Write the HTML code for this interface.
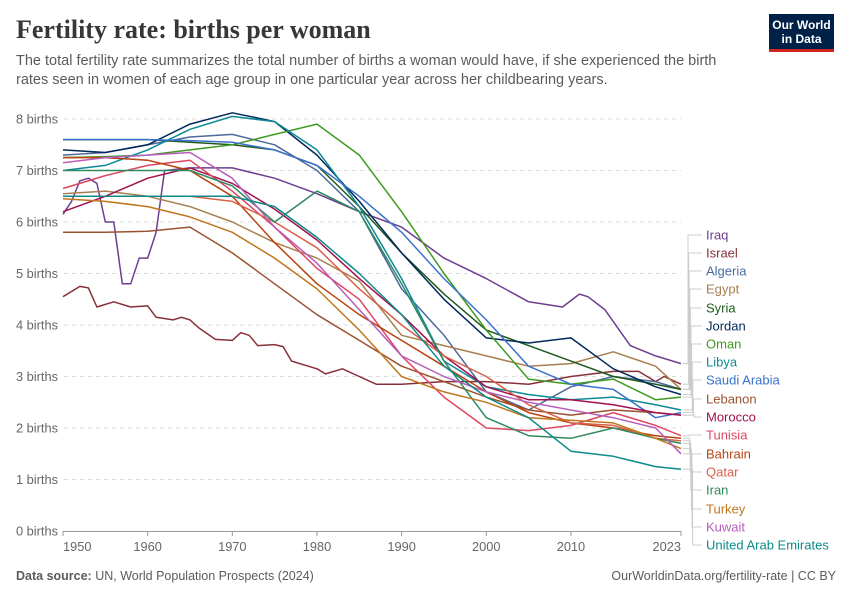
<!DOCTYPE html>
<html><head><meta charset="utf-8">
<style>
body{margin:0;background:#fff;}
#wrap{position:relative;width:850px;height:600px;overflow:hidden;font-family:"Liberation Sans",sans-serif;}
.title{position:absolute;left:16px;top:15px;font-family:"Liberation Serif",serif;font-size:26px;font-weight:bold;color:#373737;margin:0;}
.sub{position:absolute;left:16px;top:52px;width:730px;font-size:14.5px;line-height:19px;color:#5b5b5b;margin:0;}
.logo{position:absolute;left:769px;top:14px;width:65px;height:38px;background:#002147;color:#fff;font-size:12px;font-weight:bold;text-align:center;line-height:14px;padding-top:4px;box-sizing:border-box;border-bottom:3px solid #ce261e;}
.foot{position:absolute;top:569px;font-size:12.5px;color:#5b5b5b;}
</style></head><body>
<div id="wrap">
<h1 class="title">Fertility rate: births per woman</h1>
<p class="sub">The total fertility rate summarizes the total number of births a woman would have, if she experienced the birth rates seen in women of each age group in one particular year across her childbearing years.</p>
<div class="logo">Our World<br>in Data</div>
<div class="foot" style="left:16px"><b>Data source:</b> UN, World Population Prospects (2024)</div>
<div class="foot" style="right:14px">OurWorldinData.org/fertility-rate | CC BY</div>
<svg id="chart" width="850" height="600" style="position:absolute;left:0;top:0"></svg>
</div>
<script>
const yTicks=[0,1,2,3,4,5,6,7,8];
const xTicks=[1950,1960,1970,1980,1990,2000,2010,2023];
const countries=["Iraq","Israel","Algeria","Egypt","Syria","Jordan","Oman","Libya","Saudi Arabia","Lebanon","Morocco","Tunisia","Bahrain","Qatar","Iran","Turkey","Kuwait","United Arab Emirates"];
const colors=["#6d3e91","#883039","#4c6a9c","#a8804f","#1f5a1c","#00295b","#3f9a1f","#0e8a97","#3a72cc","#9a5230","#a2114d","#de4761","#b9420f","#d9604a","#2e8a5e","#c0761c","#b65fbc","#0d8a8a"];
const iraqYears=[1950,1951,1952,1953,1954,1955,1956,1957,1958,1959,1960,1961,1962,1965,1970,1975,1980,1985,1990,1995,2000,2005,2009,2011,2012,2014,2017,2020,2023];
const iraqVals=[6.15,6.4,6.8,6.85,6.75,6.0,6.0,4.8,4.8,5.3,5.3,5.8,7.0,7.05,7.05,6.85,6.55,6.2,5.9,5.3,4.9,4.45,4.35,4.6,4.55,4.3,3.6,3.4,3.25];
const israelYears=[1950,1952,1953,1954,1956,1958,1960,1961,1963,1964,1965,1966,1968,1970,1971,1972,1973,1975,1976,1977,1980,1981,1983,1985,1987,1990,1995,2000,2005,2010,2015,2018,2020,2021,2023];
const israelVals=[4.55,4.75,4.72,4.35,4.45,4.35,4.37,4.15,4.1,4.15,4.1,3.95,3.72,3.7,3.85,3.8,3.6,3.62,3.58,3.3,3.15,3.05,3.15,3.0,2.85,2.85,2.9,2.9,2.85,3.0,3.1,3.1,2.9,3.0,2.85];
const stdYears=[1950,1955,1960,1965,1970,1975,1980,1985,1990,1995,2000,2005,2010,2015,2020,2023];
const algeriaVals=[7.3,7.35,7.5,7.65,7.7,7.5,7.0,6.2,4.7,3.8,2.7,2.35,2.8,3.0,2.9,2.75];
const egyptVals=[6.55,6.6,6.5,6.3,6.0,5.6,5.3,4.85,3.8,3.6,3.4,3.2,3.25,3.48,3.2,2.75];
const syriaVals=[7.6,7.6,7.6,7.55,7.5,7.4,7.1,6.3,5.4,4.6,3.9,3.6,3.3,3.0,2.85,2.75];
const jordanVals=[7.4,7.35,7.5,7.9,8.12,7.95,7.3,6.4,5.4,4.5,3.75,3.65,3.75,3.15,2.8,2.65];
const omanVals=[7.25,7.27,7.3,7.4,7.5,7.7,7.9,7.3,6.2,5.0,3.9,2.95,2.85,2.95,2.55,2.6];
const libyaVals=[7.0,7.1,7.4,7.8,8.05,7.95,7.4,6.3,4.9,3.3,2.8,2.65,2.55,2.6,2.45,2.35];
const saudiVals=[7.6,7.6,7.6,7.58,7.55,7.4,7.1,6.5,5.8,4.9,4.1,3.2,2.85,2.75,2.2,2.3];
const lebanonVals=[5.8,5.8,5.82,5.9,5.4,4.8,4.2,3.7,3.2,2.9,2.6,2.35,2.25,2.35,2.3,2.25];
const moroccoVals=[6.2,6.5,6.85,7.05,6.75,6.25,5.65,4.9,4.2,3.4,2.8,2.55,2.55,2.45,2.3,2.25];
const tunisiaVals=[6.65,6.9,7.1,7.2,6.6,5.9,5.1,4.5,3.4,2.6,2.0,1.95,2.05,2.3,2.05,1.85];
const bahrainVals=[7.25,7.25,7.2,7.0,6.5,5.6,4.8,4.2,3.7,3.2,2.7,2.3,2.1,2.0,1.85,1.8];
const qatarVals=[6.5,6.5,6.5,6.5,6.4,6.0,5.5,4.7,4.0,3.4,3.0,2.45,2.1,2.05,1.8,1.75];
const iranVals=[7.0,7.0,7.0,7.0,6.7,6.0,6.6,6.2,4.8,3.3,2.2,1.85,1.8,2.0,1.8,1.7];
const turkeyVals=[6.45,6.4,6.3,6.1,5.8,5.3,4.7,3.9,3.0,2.7,2.5,2.2,2.15,2.1,1.8,1.6];
const kuwaitVals=[7.15,7.25,7.3,7.35,6.85,5.9,5.2,4.3,3.4,3.0,2.7,2.5,2.35,2.2,2.0,1.5];
const uaeVals=[6.5,6.5,6.5,6.5,6.5,6.3,5.7,5.0,4.2,3.2,2.6,2.2,1.55,1.45,1.25,1.2];
const labelY=[235,253,271,289,308,326,344,362,380,399,417,435,454,472,490,509,527,545];

const X0=63,X1=681,Y0=531,Y8=119;
const xs=y=>X0+(y-1950)*(X1-X0)/73;
const ys=v=>Y0-v*(Y0-Y8)/8;
const svg=document.getElementById('chart');
const NS="http://www.w3.org/2000/svg";
function mk(tag,attrs){const e=document.createElementNS(NS,tag);for(const k in attrs)e.setAttribute(k,attrs[k]);svg.appendChild(e);return e;}
yTicks.forEach(t=>{
  if(t>0){const g=mk('line',{x1:64,x2:681,y1:ys(t),y2:ys(t),stroke:'#ddd','stroke-dasharray':'4,4'});
  
  }
  const tx=mk('text',{x:16,y:ys(t)+4.5,'font-size':12.8,fill:'#666','font-family':'Liberation Sans, sans-serif'});
  tx.textContent=t+' births';
  
  
});
const ax=mk('line',{x1:63,x2:681,y1:531.5,y2:531.5,stroke:'#999'});


xTicks.forEach((t,i)=>{
  const tk=mk('line',{x1:xs(t),x2:xs(t),y1:531,y2:536,stroke:'#999'});
  
  
  const anchor=i==0?'start':(i==xTicks.length-1?'end':'middle');
  const tx=mk('text',{x:xs(t),y:551,'font-size':12.8,fill:'#666','text-anchor':anchor,'font-family':'Liberation Sans, sans-serif'});
  tx.textContent=t;
  
  
});
const seriesYears=[iraqYears,israelYears,stdYears,stdYears,stdYears,stdYears,stdYears,stdYears,stdYears,stdYears,stdYears,stdYears,stdYears,stdYears,stdYears,stdYears,stdYears,stdYears];
const seriesVals=[iraqVals,israelVals,algeriaVals,egyptVals,syriaVals,jordanVals,omanVals,libyaVals,saudiVals,lebanonVals,moroccoVals,tunisiaVals,bahrainVals,qatarVals,iranVals,turkeyVals,kuwaitVals,uaeVals];
countries.forEach((c,i)=>{
  const yr=seriesYears[i],vs=seriesVals[i];
  const d=vs.map((v,j)=>(j?'L':'M')+xs(yr[j]).toFixed(1)+','+ys(v).toFixed(1)).join('');
  const slug=c.toLowerCase().replace(/ /g,'-');
  const p=mk('path',{d:d,fill:'none',stroke:colors[i],'stroke-width':1.5,'stroke-linejoin':'round'});
  
  
  const endY=ys(vs[vs.length-1]);
  const vx=688+(i<11?i*0.6:(i-11)*0.6+1);
  const cn=mk('path',{d:`M683,${endY}H${vx}V${labelY[i]}H702`,fill:'none',stroke:'#ccc','stroke-width':1});
  
  
  const t=mk('text',{x:706,y:labelY[i]+4.5,'font-size':13,fill:colors[i],'font-family':'Liberation Sans, sans-serif'});
  t.textContent=c;
  
  
});
</script>
</body></html>
